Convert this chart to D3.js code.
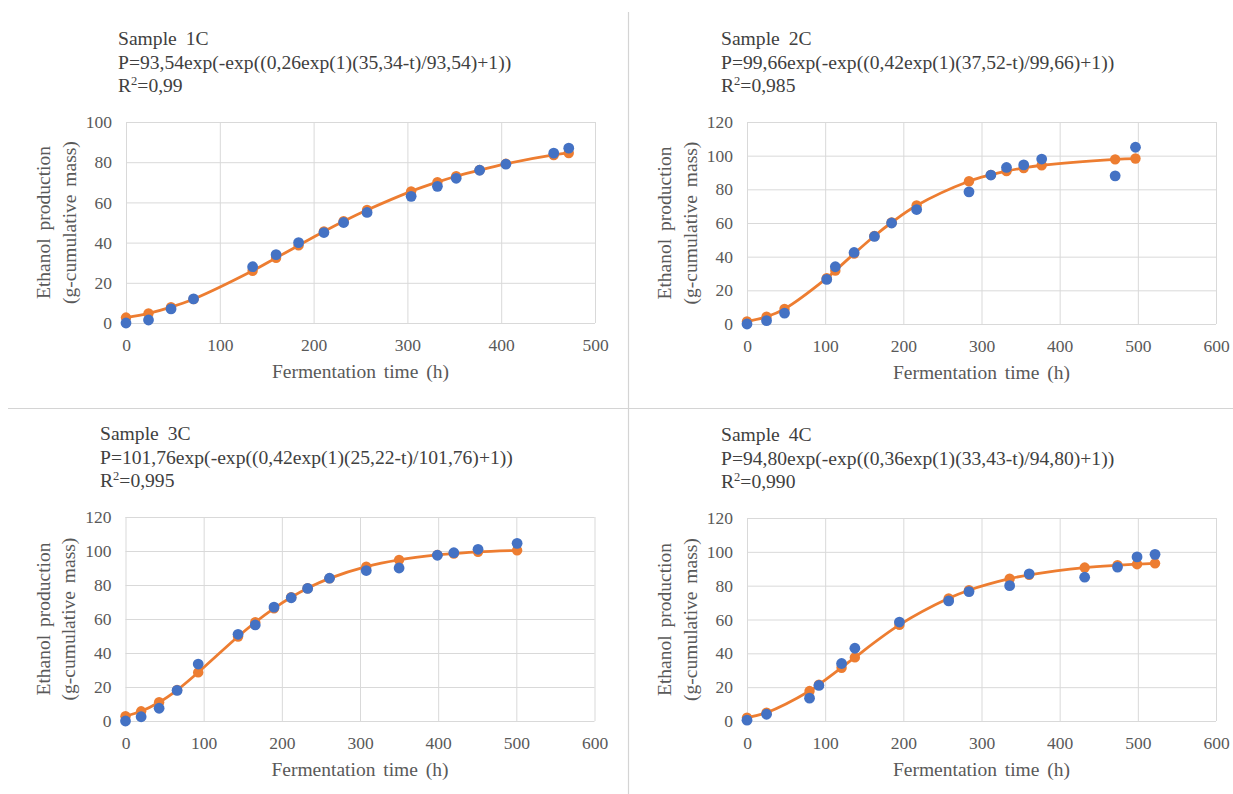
<!DOCTYPE html>
<html>
<head>
<meta charset="utf-8">
<script src="https://cdn.jsdelivr.net/npm/d3@7"></script>
<style>
  body { margin: 0; background: #fff; }
  svg { display: block; }
  svg text { font-family: "Liberation Serif", "Times New Roman", serif; }
</style>
</head>
<body>
<svg id="chart" width="1233" height="794"></svg>
<script>
// ---- data ----
const sampleNames = ["Sample 1C", "Sample 2C", "Sample 3C", "Sample 4C"];
const equations = [
  "P=93,54exp(-exp((0,26exp(1)(35,34-t)/93,54)+1))",
  "P=99,66exp(-exp((0,42exp(1)(37,52-t)/99,66)+1))",
  "P=101,76exp(-exp((0,42exp(1)(25,22-t)/101,76)+1))",
  "P=94,80exp(-exp((0,36exp(1)(33,43-t)/94,80)+1))"
];
const r2Labels = ["0,99", "0,985", "0,995", "0,990"];

const xTicks500 = [0, 100, 200, 300, 400, 500];
const xTicks600 = [0, 100, 200, 300, 400, 500, 600];
const yTicks100 = [0, 20, 40, 60, 80, 100];
const yTicks120 = [0, 20, 40, 60, 80, 100, 120];

const time1C = [0, 24, 48, 72, 135, 160, 184, 211, 232, 257, 304, 332, 352, 377, 405, 456, 472];
const observed1C = [0, 1.5, 7, 12, 28, 34, 40, 45, 50, 55, 63, 68, 72, 76, 79, 84.5, 87];
const fitted1C = [2.7, 4.8, 7.9, 11.9, 26, 32.4, 38.6, 45.5, 50.6, 56.2, 65.5, 70.1, 73, 76.1, 79.2, 83.6, 84.6];

const time2C = [0, 25, 48, 102, 113, 137, 163, 185, 217, 284, 312, 332, 354, 377, 471, 497];
const observed2C = [0, 2, 6.5, 26.5, 34, 42.5, 52, 60, 68, 78.5, 88.5, 93, 94.5, 98, 88, 105];
const fitted2C = [1.5, 4.3, 8.9, 27.2, 31.7, 41.8, 52.3, 60.3, 70.4, 84.8, 88.6, 90.8, 92.7, 94.3, 97.8, 98.3];

const time3C = [0, 20, 43, 66, 93, 144, 166, 190, 212, 233, 261, 308, 350, 399, 420, 451, 501];
const observed3C = [0, 2.5, 7.5, 18, 33.5, 51, 56.5, 67, 72.5, 78, 84, 88.5, 90, 97.5, 99, 101, 104.5];
const fitted3C = [2.8, 5.7, 11, 18.2, 28.6, 49.7, 58.1, 66.3, 72.8, 78.1, 83.9, 90.8, 94.8, 97.7, 98.5, 99.5, 100.4];

const time4C = [0, 25, 80, 92, 121, 138, 195, 258, 284, 336, 361, 432, 474, 499, 522];
const observed4C = [0.5, 4, 13.5, 21, 34, 43, 58.5, 71, 76.5, 80, 87, 85, 91, 97, 98.5];
const fitted4C = [2, 4.9, 17.7, 21.5, 31.5, 37.6, 56.8, 72.5, 77.3, 84.1, 86.4, 90.7, 92.1, 92.7, 93.2];

// ---- layout ----
const panels = [
  { left: 126, right: 595, top: 122, bottom: 323, headX: 118, xTicks: xTicks500, yTicks: yTicks100,
    time: time1C, observed: observed1C, fitted: fitted1C },
  { left: 747, right: 1216, top: 122, bottom: 324, headX: 721, xTicks: xTicks600, yTicks: yTicks120,
    time: time2C, observed: observed2C, fitted: fitted2C },
  { left: 125.5, right: 594.5, top: 517, bottom: 721, headX: 100, xTicks: xTicks600, yTicks: yTicks120,
    time: time3C, observed: observed3C, fitted: fitted3C },
  { left: 747, right: 1216, top: 518, bottom: 721, headX: 721, xTicks: xTicks600, yTicks: yTicks120,
    time: time4C, observed: observed4C, fitted: fitted4C }
];

const serif = "'Liberation Serif', 'Times New Roman', serif";
const blue = "#4472c4", orange = "#ed7d31", grid = "#d9d9d9";
const svg = d3.select("#chart");

// separators between the four figures
svg.append("line").attr("x1", 628.5).attr("x2", 628.5).attr("y1", 12).attr("y2", 794)
  .attr("stroke", "#d4d4d4").attr("stroke-width", 1.2);
svg.append("line").attr("x1", 8).attr("x2", 1233).attr("y1", 408.5).attr("y2", 408.5)
  .attr("stroke", "#d4d4d4").attr("stroke-width", 1.2);

panels.forEach(function(p, i) {
  const g = svg.append("g");
  const x = d3.scaleLinear().domain([0, d3.max(p.xTicks)]).range([p.left, p.right]);
  const y = d3.scaleLinear().domain([0, d3.max(p.yTicks)]).range([p.bottom, p.top]);

  // y axis + horizontal gridlines
  g.append("g")
    .attr("transform", "translate(" + p.left + ",0)")
    .call(d3.axisLeft(y).tickValues(p.yTicks).tickSize(-(p.right - p.left)).tickPadding(14))
    .attr("font-family", serif).attr("font-size", 17.5)
    .call(a => a.select(".domain").remove())
    .call(a => a.selectAll("line").attr("stroke", grid))
    .call(a => a.selectAll("text").attr("fill", "#595959"));

  // x axis + vertical gridlines
  g.append("g")
    .attr("transform", "translate(0," + p.bottom + ")")
    .call(d3.axisBottom(x).tickValues(p.xTicks).tickSize(-(p.bottom - p.top)).tickPadding(15.5))
    .attr("font-family", serif).attr("font-size", 17.5)
    .call(a => a.select(".domain").remove())
    .call(a => a.selectAll("line").attr("stroke", grid))
    .call(a => a.selectAll("text").attr("fill", "#595959"));

  // axis titles
  g.append("text")
    .attr("x", (p.left + p.right) / 2).attr("y", p.bottom + 55)
    .attr("text-anchor", "middle").attr("font-family", serif).attr("font-size", 19.5)
    .attr("word-spacing", 3).attr("fill", "#595959")
    .text("Fermentation time (h)");

  const cy = (p.top + p.bottom) / 2;
  ["Ethanol production", "(g-cumulative mass)"].forEach(function(t, k) {
    g.append("text")
      .attr("transform", "translate(" + (p.left - 76 + k * 25.5) + "," + cy + ") rotate(-90)")
      .attr("text-anchor", "middle").attr("font-family", serif).attr("font-size", 19.5)
      .attr("word-spacing", 3).attr("fill", "#595959")
      .text(t);
  });

  // header text
  const head = g.append("g").attr("font-family", serif).attr("font-size", 19.6).attr("fill", "#404040");
  head.append("text").attr("x", p.headX).attr("y", p.top - 77)
    .attr("word-spacing", 4).text(sampleNames[i]);
  head.append("text").attr("x", p.headX).attr("y", p.top - 53.5).text(equations[i]);
  const r2 = head.append("text").attr("x", p.headX).attr("y", p.top - 30);
  r2.append("tspan").text("R");
  r2.append("tspan").attr("font-size", 12.5).attr("dy", -7).text("2");
  r2.append("tspan").attr("dy", 7).text("=" + r2Labels[i]);

  // fitted curve (orange)
  const fit = p.time.map((t, j) => [t, p.fitted[j]]);
  g.append("path")
    .datum(fit)
    .attr("fill", "none").attr("stroke", orange).attr("stroke-width", 2.8)
    .attr("d", d3.line().x(d => x(d[0])).y(d => y(d[1])).curve(d3.curveCatmullRom.alpha(0.5)));
  g.selectAll(".fit").data(fit).join("circle")
    .attr("class", "fit")
    .attr("cx", d => x(d[0])).attr("cy", d => y(d[1])).attr("r", 5.2)
    .attr("fill", orange);

  // observed points (blue)
  g.selectAll(".obs").data(p.time.map((t, j) => [t, p.observed[j]])).join("circle")
    .attr("class", "obs")
    .attr("cx", d => x(d[0])).attr("cy", d => y(d[1])).attr("r", 5.4)
    .attr("fill", blue);
});
</script>
</body>
</html>
